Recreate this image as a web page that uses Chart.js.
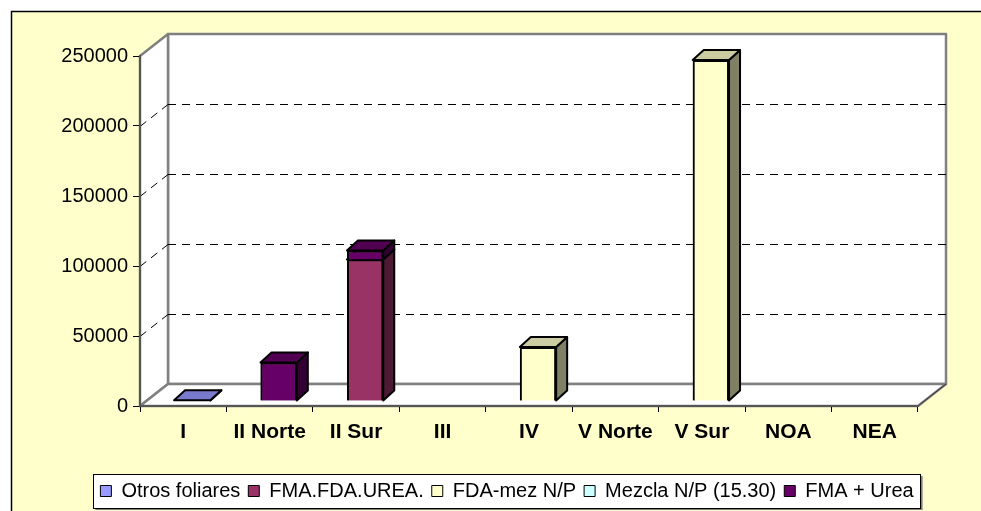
<!DOCTYPE html>
<html>
<head>
<meta charset="utf-8">
<script src="https://cdn.jsdelivr.net/npm/chart.js@4.4.1/dist/chart.umd.min.js"></script>
<style>
  body { margin: 0; background: #fff; }
  #grafico { position: absolute; left: 0; top: 0; }
</style>
</head>
<body>
<canvas id="grafico" width="981" height="511"></canvas>
<script>
// Regiones y volúmenes por tipo de fertilizante
const regiones = ['I', 'II Norte', 'II Sur', 'III', 'IV', 'V Norte', 'V Sur', 'NOA', 'NEA'];
const otrosFoliares = [600, null, null, null, null, null, null, null, null];
const fmaFdaUrea = [null, null, 101000, null, null, null, null, null, null];
const fdaMez = [null, null, null, null, 38500, null, 243500, null, null];
const mezclaNP = [null, null, null, null, null, null, null, null, null];
const fmaUrea = [null, 27500, 6500, null, null, null, null, null, null];
const yTicks = [0, 50000, 100000, 150000, 200000, 250000];

const DX = 28, DY = 22;    // profundidad de las paredes
const BX = 9, BY = 5;      // plano de las barras
const BDX = 11, BDY = 10;  // profundidad de las barras
const CENTRO_LEYENDA = 507;

const sombra = (hex, f) => {
  const n = parseInt(hex.slice(1), 16);
  const r = Math.round(((n >> 16) & 255) * f), g = Math.round(((n >> 8) & 255) * f), b = Math.round((n & 255) * f);
  return `rgb(${r},${g},${b})`;
};

const marco3d = {
  id: 'marco3d',
  afterLayout(chart) {
    // centrar la leyenda bajo el gráfico
    const lg = chart.legend;
    const shift = CENTRO_LEYENDA - (lg.left + lg.right) / 2;
    lg.left += shift;
    lg.right += shift;
  },
  beforeDraw(chart) {
    const ctx = chart.ctx;
    const {left, right, top, bottom} = chart.chartArea;
    ctx.save();
    ctx.fillStyle = '#fff';
    ctx.fillRect(0, 0, chart.width, chart.height);
    ctx.fillStyle = '#FFFFCC';
    ctx.fillRect(11, 11, chart.width, chart.height);
    ctx.strokeStyle = '#000';
    ctx.lineWidth = 1.5;
    ctx.beginPath();
    ctx.moveTo(11.5, chart.height); ctx.lineTo(11.5, 11.5); ctx.lineTo(chart.width, 11.5);
    ctx.stroke();

    // caja de la leyenda
    const lg = chart.legend;
    const hb = lg.legendHitBoxes;
    if (hb && hb.length) {
      const pad = lg.options.labels.padding;
      const w = hb.reduce((s, h) => s + h.width, 0) + pad * (hb.length - 1);
      const c = (lg.left + lg.right) / 2;
      const l = c - w / 2 - 7, r = c + w / 2 + 7;
      const t = lg.top + pad - 7;
      const b = lg.top + pad + hb[0].height + 7;
      ctx.fillStyle = '#808080';
      ctx.fillRect(l + 2, t + 2, r - l, b - t);
      ctx.fillStyle = '#fff';
      ctx.fillRect(l, t, r - l, b - t);
      ctx.strokeStyle = '#000';
      ctx.lineWidth = 1;
      ctx.strokeRect(Math.round(l) + 0.5, Math.round(t) + 0.5, Math.round(r - l), Math.round(b - t));
    }

    // paredes y piso
    ctx.fillStyle = '#fff';
    ctx.strokeStyle = '#808080';
    ctx.lineWidth = 2.5;
    ctx.lineJoin = 'round';
    const poly = (pts) => {
      ctx.beginPath();
      pts.forEach(([x, y], i) => i ? ctx.lineTo(x, y) : ctx.moveTo(x, y));
      ctx.closePath();
      ctx.fill();
      ctx.stroke();
    };
    poly([[left + DX, top - DY], [right + DX, top - DY], [right + DX, bottom - DY], [left + DX, bottom - DY]]);
    poly([[left, top], [left + DX, top - DY], [left + DX, bottom - DY], [left, bottom]]);
    poly([[left, bottom], [left + DX, bottom - DY], [right + DX, bottom - DY], [right, bottom]]);
    ctx.strokeStyle = '#333';
    ctx.lineWidth = 1;
    ctx.beginPath();
    ctx.moveTo(right, bottom); ctx.lineTo(right + DX, bottom - DY);
    ctx.stroke();

    // líneas de división punteadas
    const ys = chart.scales.y;
    ctx.strokeStyle = '#000';
    ctx.lineWidth = 1;
    ctx.setLineDash([8, 6]);
    ys.ticks.forEach(t => {
      if (t.value === ys.min || t.value === ys.max) return;
      const y = Math.round(ys.getPixelForValue(t.value)) + 0.5;
      ctx.beginPath();
      ctx.moveTo(left, y); ctx.lineTo(left + DX, y - DY);
      ctx.moveTo(left + DX, y - DY); ctx.lineTo(right + DX, y - DY);
      ctx.stroke();
    });
    ctx.restore();
  },
  beforeDatasetsDraw(chart) {
    chart.ctx.save();
    chart.ctx.translate(BX, -BY);
  },
  afterDatasetsDraw(chart) {
    const ctx = chart.ctx;
    chart.data.labels.forEach((lab, j) => {
      const segs = [];
      chart.data.datasets.forEach((ds, i) => {
        if (ds.data[j] === null) return;
        segs.push({el: chart.getDatasetMeta(i).data[j], color: ds.backgroundColor});
      });
      segs.sort((a, b) => Math.max(b.el.y, b.el.base) - Math.max(a.el.y, a.el.base));
      segs.forEach(({el, color}) => {
        el.draw(ctx);
        const l = el.x - el.width / 2, r = el.x + el.width / 2;
        const t = Math.min(el.y, el.base), b = Math.max(el.y, el.base);
        ctx.save();
        ctx.strokeStyle = '#000';
        ctx.lineWidth = 2;
        ctx.lineJoin = 'round';
        ctx.beginPath();
        ctx.moveTo(r, b); ctx.lineTo(r, t); ctx.lineTo(r + BDX, t - BDY); ctx.lineTo(r + BDX, b - BDY);
        ctx.closePath();
        ctx.fillStyle = sombra(color, 0.5);
        ctx.fill(); ctx.stroke();
        ctx.beginPath();
        ctx.moveTo(l, t); ctx.lineTo(l + BDX, t - BDY); ctx.lineTo(r + BDX, t - BDY); ctx.lineTo(r, t);
        ctx.closePath();
        ctx.fillStyle = sombra(color, 0.8);
        ctx.fill(); ctx.stroke();
        ctx.restore();
      });
    });
    ctx.restore();
  }
};

const serie = (label, data, color) => ({
  label, data, backgroundColor: color, borderColor: '#000', borderWidth: 2, clip: false
});

const ctx = document.getElementById('grafico').getContext('2d');
const grafico = new Chart(ctx, {
  type: 'bar',
  data: {
    labels: regiones,
    datasets: [
      serie('Otros foliares', otrosFoliares, '#9999FF'),
      serie('FMA.FDA.UREA.', fmaFdaUrea, '#993366'),
      serie('FDA-mez N/P', fdaMez, '#FFFFCC'),
      serie('Mezcla N/P (15.30)', mezclaNP, '#CCFFFF'),
      serie('FMA + Urea', fmaUrea, '#660066')
    ]
  },
  options: {
    responsive: false,
    animation: false,
    devicePixelRatio: 1,
    categoryPercentage: 1,
    barPercentage: 0.42,
    layout: { padding: { left: 0, right: 63, top: 56, bottom: 0 } },
    plugins: {
      tooltip: { enabled: false },
      legend: {
        position: 'bottom',
        labels: {
          color: '#000',
          font: { family: 'Liberation Sans, Arial', size: 20 },
          boxWidth: 11,
          boxHeight: 11,
          padding: 8,
          generateLabels: (chart) => Chart.defaults.plugins.legend.labels.generateLabels(chart)
            .map(it => ({...it, lineWidth: 1}))
        }
      }
    },
    scales: {
      x: {
        stacked: true,
        afterFit: (s) => { s.height = 67; },
        border: { color: '#555', width: 2 },
        grid: { drawOnChartArea: false, drawTicks: true, tickLength: 6, color: '#000', offset: true },
        ticks: { color: '#000', padding: 8, font: { family: 'Liberation Sans, Arial', size: 21, weight: 'bold' } }
      },
      y: {
        stacked: true,
        min: yTicks[0],
        max: yTicks[yTicks.length - 1],
        afterFit: (s) => { s.width = 140; },
        afterBuildTicks: (s) => { s.ticks = yTicks.map(v => ({value: v})); },
        border: { color: '#555', width: 2 },
        grid: { drawOnChartArea: false, drawTicks: true, tickLength: 7, color: '#000' },
        ticks: { color: '#000', padding: 5, font: { family: 'Liberation Sans, Arial', size: 20 }, callback: (v) => String(v) }
      }
    }
  },
  plugins: [marco3d]
});
</script>
</body>
</html>
